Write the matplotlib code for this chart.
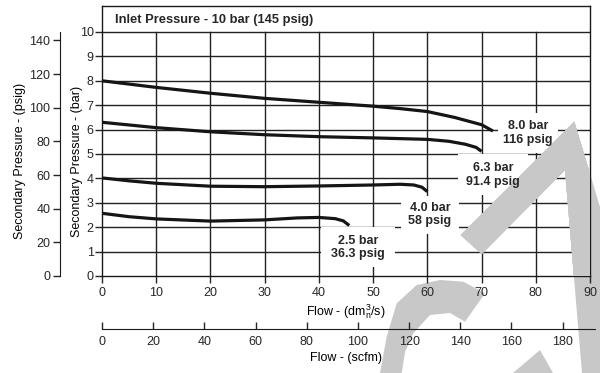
import matplotlib
matplotlib.use("Agg")
import matplotlib.pyplot as plt
from matplotlib.patches import Polygon, Rectangle

plt.rcParams['font.family'] = ['Liberation Sans', 'DejaVu Sans']
plt.rcParams['mathtext.fontset'] = 'custom'
plt.rcParams['mathtext.rm'] = 'Liberation Sans'
plt.rcParams['mathtext.it'] = 'Liberation Sans:italic'
plt.rcParams['text.color'] = '#262626'
plt.rcParams['xtick.color'] = '#262626'
plt.rcParams['ytick.color'] = '#262626'

# secondary pressure (bar) vs flow (dm3n/s), inlet 10 bar
flow_8_0 = [0, 10, 20, 30, 40, 50, 55, 60, 65, 70, 72.1]
bar_8_0 = [8.00, 7.73, 7.49, 7.28, 7.12, 6.96, 6.86, 6.74, 6.50, 6.20, 5.94]

flow_6_3 = [0, 10, 20, 30, 40, 50, 60, 64, 67, 69, 70]
bar_6_3 = [6.30, 6.08, 5.91, 5.79, 5.71, 5.66, 5.60, 5.52, 5.40, 5.27, 5.11]

flow_4_0 = [0, 5, 10, 20, 30, 40, 50, 55, 57.5, 59, 60]
bar_4_0 = [4.02, 3.90, 3.80, 3.68, 3.66, 3.69, 3.73, 3.76, 3.73, 3.64, 3.46]

flow_2_5 = [0, 5, 10, 20, 30, 36, 40, 43, 44.5, 45.6]
bar_2_5 = [2.57, 2.43, 2.34, 2.25, 2.30, 2.38, 2.40, 2.35, 2.26, 2.07]

curve_labels = ["8.0 bar\n116 psig", "6.3 bar\n91.4 psig", "4.0 bar\n58 psig", "2.5 bar\n36.3 psig"]
label_flow = [78.6, 72.1, 60.5, 47.2]
label_bar = [5.85, 4.15, 2.52, 1.17]

flow_ticks = list(range(0, 91, 10))
bar_ticks = list(range(0, 11))
psig_ticks = list(range(0, 141, 20))
scfm_ticks = list(range(0, 181, 20))

PSIG_PER_BAR = 14.5038
SCFM_PER_DM3S = 2.1189

W, H = 600, 373

# white gaps behind the curve labels, in pixels
box_w_px = [60, 70, 58, 74]
box_h_px = [40, 41, 38, 40]


def px(x0, y0, x1, y1):
    """pixel box (left, top, right, bottom) -> figure fraction rect"""
    return [x0 / W, 1 - y1 / H, (x1 - x0) / W, (y1 - y0) / H]


fig = plt.figure(figsize=(6, 3.73), dpi=100)

# -----------------------------
# watermark in the background
# -----------------------------
shapes = [
    [(460.7, 235), (574.3, 121.7), (600, 207), (600, 373), (582, 373), (565, 170), (481.7, 254)],
    [(380, 373), (386.7, 336.7), (396.7, 303.3), (416.7, 285), (440, 280), (463.3, 281.7),
     (485, 293.3), (465, 321.7), (450, 313), (430, 315), (413.3, 333.3), (405, 352), (401.7, 373)],
    [(513, 373), (540, 350), (553, 373)],
]
WM_COLOR = '#c8c8c8'


def watermark_polys():
    return [Polygon([(x / W, 1 - y / H) for x, y in pts], closed=True,
                    transform=fig.transFigure, fc=WM_COLOR, ec='none') for pts in shapes]


for p in watermark_polys():
    p.set_zorder(-1)
    fig.add_artist(p)

# -----------------------------
# main chart (bar)
# -----------------------------
y_top = 10 * 270 / 244
ax = fig.add_axes(px(102, 6, 590, 276))
ax.patch.set_visible(False)
ax.set_xlim(0, 90)
ax.set_ylim(0, y_top)
for s in ax.spines.values():
    s.set_linewidth(1)
    s.set_color('#1a1a1a')

ax.set_xticks(flow_ticks)
ax.set_yticks(bar_ticks)
ax.tick_params(axis='both', direction='out', length=5, width=1, labelsize=9)
ax.tick_params(axis='y', pad=1)
ax.tick_params(axis='x', pad=3)

# grid: verticals stop at 10 bar, the title box sits above
for f in flow_ticks[1:-1]:
    ax.axvline(f, ymin=0, ymax=10 / y_top, color='#222222', lw=1.0, zorder=2)
for b in bar_ticks[1:]:
    ax.axhline(b, color='#222222', lw=1.0, zorder=2)

for fl, br in [(flow_8_0, bar_8_0), (flow_6_3, bar_6_3), (flow_4_0, bar_4_0), (flow_2_5, bar_2_5)]:
    ax.plot(fl, br, color='#151515', lw=2.3, solid_capstyle='butt', zorder=4)

# label gaps: white box over the grid, watermark shows through it
x_scale = 488 / 90
y_scale = 270 / y_top
for txt, fx, by, bw, bh in zip(curve_labels, label_flow, label_bar, box_w_px, box_h_px):
    w = bw / x_scale
    h = bh / y_scale
    box = Rectangle((fx - w / 2, by - h / 2), w, h, fc='white', ec='none', zorder=2.5)
    ax.add_patch(box)
    for p in watermark_polys():
        p.set_zorder(2.6)
        p.set_clip_path(box)
        ax.add_artist(p)
    ax.text(fx, by, txt, ha='center', va='center', fontsize=9, fontweight='bold',
            linespacing=1.2, zorder=5)

ax.text(2.4, 10.5, "Inlet Pressure - 10 bar (145 psig)", fontsize=9.3, fontweight='bold',
        va='center', ha='left')

ax.set_xlabel(r"Flow - (dm$_\mathrm{n}^3$/s)", fontsize=9, labelpad=2)
ax.set_ylabel("Secondary Pressure - (bar)", fontsize=9)
ax.yaxis.set_label_coords(-0.039, 0.425)

# -----------------------------
# psig axis on the far left
# -----------------------------
axp = fig.add_axes(px(60, 6, 61, 276))
axp.patch.set_visible(False)
axp.set_ylim(0, y_top * PSIG_PER_BAR)
for side in ['top', 'right', 'bottom']:
    axp.spines[side].set_visible(False)
axp.spines['left'].set_bounds(0, 145)
axp.spines['left'].set_color('#1a1a1a')
axp.set_xticks([])
axp.set_yticks(psig_ticks)
axp.tick_params(axis='y', direction='out', length=5, width=1, labelsize=9, pad=2)
axp.set_ylabel("Secondary Pressure - (psig)", fontsize=9)
axp.yaxis.set_label_coords(-34, 0.425)

# -----------------------------
# scfm axis below
# -----------------------------
axs = fig.add_axes(px(102, 328, 590, 329))
axs.patch.set_visible(False)
axs.set_xlim(0, 90 * SCFM_PER_DM3S)
for side in ['top', 'right', 'left']:
    axs.spines[side].set_visible(False)
axs.spines['bottom'].set_bounds(0, 192.5)
axs.spines['bottom'].set_color('#1a1a1a')
axs.set_yticks([])
axs.set_xticks(scfm_ticks)
axs.tick_params(axis='x', direction='in', length=5, width=1, labelsize=9, pad=5)
axs.set_xlabel("Flow - (scfm)", fontsize=9, labelpad=3)

plt.savefig("out.png", dpi=100)
